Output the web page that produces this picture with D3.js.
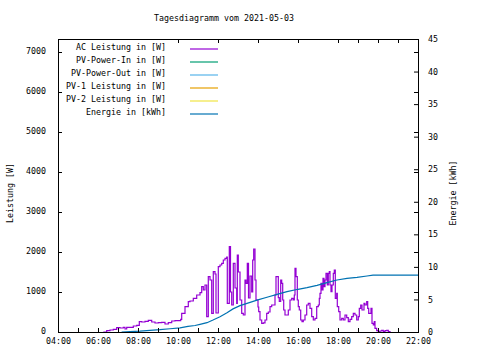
<!DOCTYPE html>
<html>
<head>
<meta charset="utf-8">
<script src="https://cdn.jsdelivr.net/npm/d3@7"></script>
<style>
  html, body { margin: 0; padding: 0; background: #fff; }
  svg { display: block; }
  text { font-family: "DejaVu Sans Mono", monospace; font-size: 8.3px; fill: #000; }
</style>
</head>
<body>
<svg id="chart" width="480" height="360"></svg>
<script>
// ---- data ----
const chartTitle = "Tagesdiagramm vom 2021-05-03";
const seriesNames = ["AC Leistung in [W]", "PV-Power-In in [W]", "PV-Power-Out in [W]", "PV-1 Leistung in [W]", "PV-2 Leistung in [W]", "Energie in [kWh]"];
const seriesColors = ["#9400d3", "#009e73", "#56b4e9", "#e69f00", "#f0e442", "#0072b2"];
const xTickHours = [4, 6, 8, 10, 12, 14, 16, 18, 20, 22];
const xTickLabels = ["04:00", "06:00", "08:00", "10:00", "12:00", "14:00", "16:00", "18:00", "20:00", "22:00"];
const yLeftTicks = [0, 1000, 2000, 3000, 4000, 5000, 6000, 7000];
const yRightTicks = [0, 5, 10, 15, 20, 25, 30, 35, 40, 45];
const yLeftLabel = "Leistung [W]";
const yRightLabel = "Energie [kWh]";

// AC Leistung (hour of day, W)
const acHours = [6.265, 6.435, 6.6, 6.765, 6.935, 7.1, 7.265, 7.35, 7.435, 7.6, 7.765, 7.935, 8.065, 8.185, 8.35, 8.515, 8.685, 8.85, 9.015, 9.185, 9.35, 9.515, 9.685, 9.85, 10.015, 10.135, 10.185, 10.35, 10.515, 10.6, 10.765, 10.935, 11.1, 11.185, 11.265, 11.35, 11.435, 11.515, 11.6, 11.685, 11.765, 11.85, 11.9, 12.015, 12.1, 12.185, 12.265, 12.35, 12.435, 12.465, 12.565, 12.625, 12.685, 12.765, 12.85, 12.935, 12.965, 13.015, 13.1, 13.185, 13.265, 13.35, 13.4, 13.465, 13.525, 13.6, 13.685, 13.735, 13.785, 13.85, 13.9, 14.0, 14.035, 14.1, 14.185, 14.265, 14.35, 14.435, 14.515, 14.6, 14.685, 14.765, 14.85, 14.9, 14.965, 15.015, 15.065, 15.135, 15.185, 15.235, 15.285, 15.35, 15.435, 15.515, 15.6, 15.685, 15.765, 15.815, 15.85, 15.9, 15.965, 16.015, 16.065, 16.135, 16.2, 16.265, 16.35, 16.435, 16.515, 16.6, 16.685, 16.765, 16.85, 16.935, 17.015, 17.065, 17.1, 17.15, 17.2, 17.25, 17.3, 17.35, 17.4, 17.465, 17.515, 17.565, 17.6, 17.65, 17.7, 17.765, 17.815, 17.865, 17.935, 17.965, 18.035, 18.1, 18.185, 18.265, 18.35, 18.435, 18.515, 18.6, 18.685, 18.765, 18.85, 18.935, 19.015, 19.065, 19.135, 19.2, 19.3, 19.35, 19.435, 19.485, 19.535, 19.6, 19.65, 19.7, 19.765, 19.815, 19.85, 19.935, 20.015, 20.1, 20.185, 20.265, 20.35, 20.435, 20.515, 20.6];
const acPower = [0, 33, 50, 67, 108, 100, 117, 75, 117, 117, 150, 167, 258, 250, 267, 292, 250, 225, 233, 242, 200, 233, 275, 283, 283, 317, 467, 633, 758, 775, 842, 925, 983, 1133, 1050, 1175, 383, 1383, 1300, 467, 1508, 1450, 475, 1633, 1675, 1717, 1800, 1842, 1875, 717, 2133, 1000, 675, 1717, 1100, 717, 1925, 1500, 800, 467, 425, 1300, 1217, 1717, 850, 1400, 1000, 1800, 2075, 1300, 800, 625, 508, 300, 217, 230, 300, 467, 500, 633, 675, 675, 925, 1383, 1383, 858, 767, 1300, 1217, 800, 550, 425, 425, 550, 800, 842, 800, 925, 1592, 1383, 800, 633, 550, 300, 258, 300, 425, 675, 717, 592, 383, 300, 342, 633, 675, 842, 967, 1217, 1050, 1342, 1133, 1300, 1467, 1175, 1467, 1508, 1175, 1008, 1175, 1467, 1550, 842, 967, 633, 508, 300, 342, 300, 425, 358, 258, 317, 383, 467, 425, 300, 383, 592, 675, 550, 717, 675, 758, 592, 467, 467, 592, 217, 175, 258, 92, 33, 8, 25, 42, 8, 33, 42, 8, 0];

// Energie (hour of day, kWh)
const energyHours = [7.18, 7.6, 8.1, 8.6, 9.1, 9.6, 10.1, 10.5, 10.85, 11.1, 11.45, 11.75, 12.1, 12.45, 12.75, 13.1, 13.45, 13.95, 14.45, 14.95, 15.45, 16.0, 16.45, 16.95, 17.45, 17.95, 18.45, 18.95, 19.45, 19.75, 22.0];
const energyKWh = [0, 0.05, 0.12, 0.26, 0.36, 0.5, 0.62, 0.85, 1.0, 1.18, 1.43, 1.84, 2.35, 2.96, 3.55, 4.05, 4.4, 4.9, 5.33, 5.79, 6.19, 6.56, 6.81, 7.17, 7.58, 7.99, 8.24, 8.4, 8.6, 8.72, 8.72];

// ---- layout ----
const L = 58, R = 418, T = 39, B = 332;
const svg = d3.select("#chart");

const x = d3.scaleLinear().domain([4, 22]).range([L, R]);
const yL = d3.scaleLinear().domain([0, 7325]).range([B, T]);
const yR = d3.scaleLinear().domain([0, 45]).range([B, T]);

// title
svg.append("text").attr("x", 224).attr("y", 18).attr("text-anchor", "middle")
  .attr("dominant-baseline", "middle").text(chartTitle);

// data lines
const acData = acHours.map((h, i) => [h, acPower[i]]);
const enData = energyHours.map((h, i) => [h, energyKWh[i]]);

svg.append("path").datum(acData)
  .attr("fill", "none").attr("stroke", seriesColors[0]).attr("stroke-width", 1.2)
  .attr("d", d3.line().x(d => x(d[0])).y(d => yL(d[1])).curve(d3.curveStepAfter));

svg.append("path").datum(enData)
  .attr("fill", "none").attr("stroke", seriesColors[5]).attr("stroke-width", 1.2)
  .attr("d", d3.line().x(d => x(d[0])).y(d => yR(d[1])));

// axes
const fmtX = d => xTickLabels[xTickHours.indexOf(d)] || "";
const hourTicks = d3.range(4, 23);

svg.append("g").attr("transform", `translate(0,${B})`)
  .call(d3.axisBottom(x).tickValues(hourTicks).tickSize(-4).tickSizeOuter(0).tickPadding(6).tickFormat(fmtX))
  .call(g => g.select(".domain").remove());

const topTickHours = [10, 12, 14, 16, 18, 19, 20, 21];
svg.append("g").attr("transform", `translate(0,${T})`)
  .call(d3.axisTop(x).tickValues(topTickHours).tickSize(-4).tickSizeOuter(0).tickFormat(""))
  .call(g => g.select(".domain").remove());

svg.append("g").attr("transform", `translate(${L},0)`)
  .call(d3.axisLeft(yL).tickValues(yLeftTicks).tickSize(-4).tickSizeOuter(0).tickPadding(12).tickFormat(d => d))
  .call(g => g.select(".domain").remove())
  .call(g => g.selectAll("text").attr("dy", "0.2em"));

// mirrored y1 ticks on right
svg.append("g").attr("transform", `translate(${R},0)`)
  .call(d3.axisRight(yL).tickValues(yLeftTicks.slice(1)).tickSize(-4).tickSizeOuter(0).tickFormat(""))
  .call(g => g.select(".domain").remove());

svg.append("g").attr("transform", `translate(${R},0)`)
  .call(d3.axisRight(yR).tickValues(yRightTicks).tickSize(-4).tickSizeOuter(0).tickPadding(10).tickFormat(d => d))
  .call(g => g.select(".domain").remove());

svg.selectAll(".tick line").attr("stroke", "#000");
svg.selectAll(".tick text").style("font-family", "DejaVu Sans Mono, monospace").style("font-size", "8.3px").attr("fill", "#000");

// border
svg.append("rect").attr("x", L).attr("y", T).attr("width", R - L).attr("height", B - T)
  .attr("fill", "none").attr("stroke", "#000").attr("stroke-width", 1).attr("shape-rendering", "crispEdges");

// axis titles
svg.append("text").attr("transform", "translate(10,193) rotate(-90)")
  .attr("text-anchor", "middle").attr("dominant-baseline", "middle").text(yLeftLabel);
svg.append("text").attr("transform", "translate(453,193) rotate(-90)")
  .attr("text-anchor", "middle").attr("dominant-baseline", "middle").text(yRightLabel);

// legend
const lg = svg.append("g");
seriesNames.forEach((name, i) => {
  const yy = 49 + i * 13;
  lg.append("text").attr("x", 166).attr("y", yy - 1.5).attr("text-anchor", "end")
    .attr("dominant-baseline", "middle").text(name);
  lg.append("line").attr("x1", 190).attr("x2", 218).attr("y1", yy).attr("y2", yy)
    .attr("stroke", seriesColors[i]).attr("stroke-width", 1.2);
});
</script>
</body>
</html>
